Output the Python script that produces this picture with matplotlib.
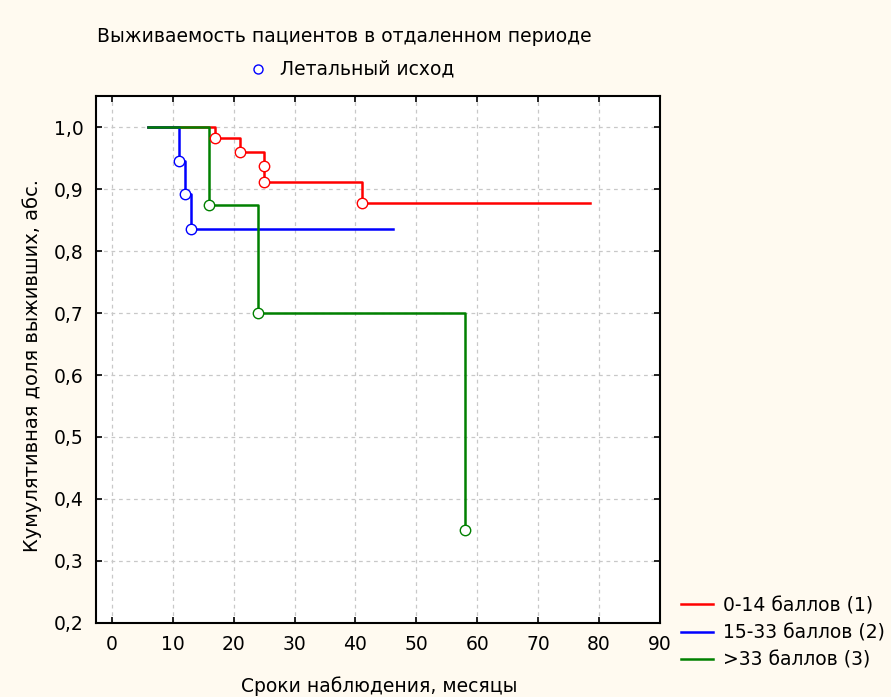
import numpy as np
import matplotlib.pyplot as plt
from matplotlib.lines import Line2D

plt.rcParams['font.family'] = ['DejaVu Sans']

# survival curves (months, cumulative proportion surviving)
t1 = [6, 17, 21, 25, 25, 41, 78.5]
s1 = [1.0, 0.982, 0.960, 0.937, 0.911, 0.877, 0.877]
t2 = [6, 11, 12, 13, 46.2]
s2 = [1.0, 0.946, 0.893, 0.835, 0.835]
t3 = [6, 16, 24, 58]
s3 = [1.0, 0.875, 0.700, 0.350]

labels = ["0-14 баллов (1)", "15-33 баллов (2)", ">33 баллов (3)"]
colors = ["#ff0000", "#0000ff", "#008000"]

xticks = np.arange(0, 91, 10)
yticks = np.round(np.arange(0.2, 1.01, 0.1), 1)

fs = 13.5

fig = plt.figure(figsize=(8.91, 6.97), dpi=100, facecolor="#FFFAF0")
ax = fig.add_axes([0.1077, 0.1066, 0.7407 - 0.1077, 0.8623 - 0.1066])
ax.set_facecolor("white")

# red first, green last (green on top)
for t, s, c in zip([t1, t2, t3], [s1, s2, s3], colors):
    ax.step(t, s, where="post", color=c, lw=1.8, zorder=3)
    # last green point is a death, others end censored
    pts = slice(1, None) if c == "#008000" else slice(1, -1)
    ax.plot(t[pts], s[pts], ls="none", marker="o", ms=7.5, mfc="white",
            mec=c, mew=1.0, zorder=4)

ax.set_xlim(-2.6, 90)
ax.set_ylim(0.2, 1.0506)
ax.set_xticks(xticks)
ax.set_yticks(yticks)
ax.set_yticklabels([("%.1f" % v).replace(".", ",") for v in yticks])
ax.tick_params(direction="in", length=4, width=1.2, top=True, right=True,
               labelsize=fs, pad=9, colors="black")
ax.grid(True, ls=(0, (3, 3)), color="#c8c8c8", lw=0.9)
for sp in ax.spines.values():
    sp.set_linewidth(1.5)

fig.text(379/891, 1 - 686/697, "Сроки наблюдения, месяцы", ha="center",
         va="center", fontsize=fs)
fig.text(32/891, 1 - 366/697, "Кумулятивная доля выживших, абс.", rotation=90,
         ha="center", va="center", fontsize=14)

fig.text(344/891, 1 - 37/697, "Выживаемость пациентов в отдаленном периоде",
         ha="center", va="center", fontsize=fs)
fig.add_artist(Line2D([258/891], [1 - 69/697], marker="o", ms=6.5, mfc="white",
                      mec="#0000ff", mew=1.0, ls="none"))
fig.text(280/891, 1 - 69/697, "Летальный исход", ha="left", va="center",
         fontsize=fs)

handles = [Line2D([], [], color=c, lw=1.8) for c in colors]
fig.legend(handles, labels, loc="upper left", bbox_to_anchor=(681/891, 1 - 596/697),
           frameon=False, fontsize=fs, handlelength=1.7, handletextpad=0.55,
           labelspacing=0.45, borderpad=0, borderaxespad=0)

fig.savefig("out.png", dpi=100, facecolor=fig.get_facecolor())
